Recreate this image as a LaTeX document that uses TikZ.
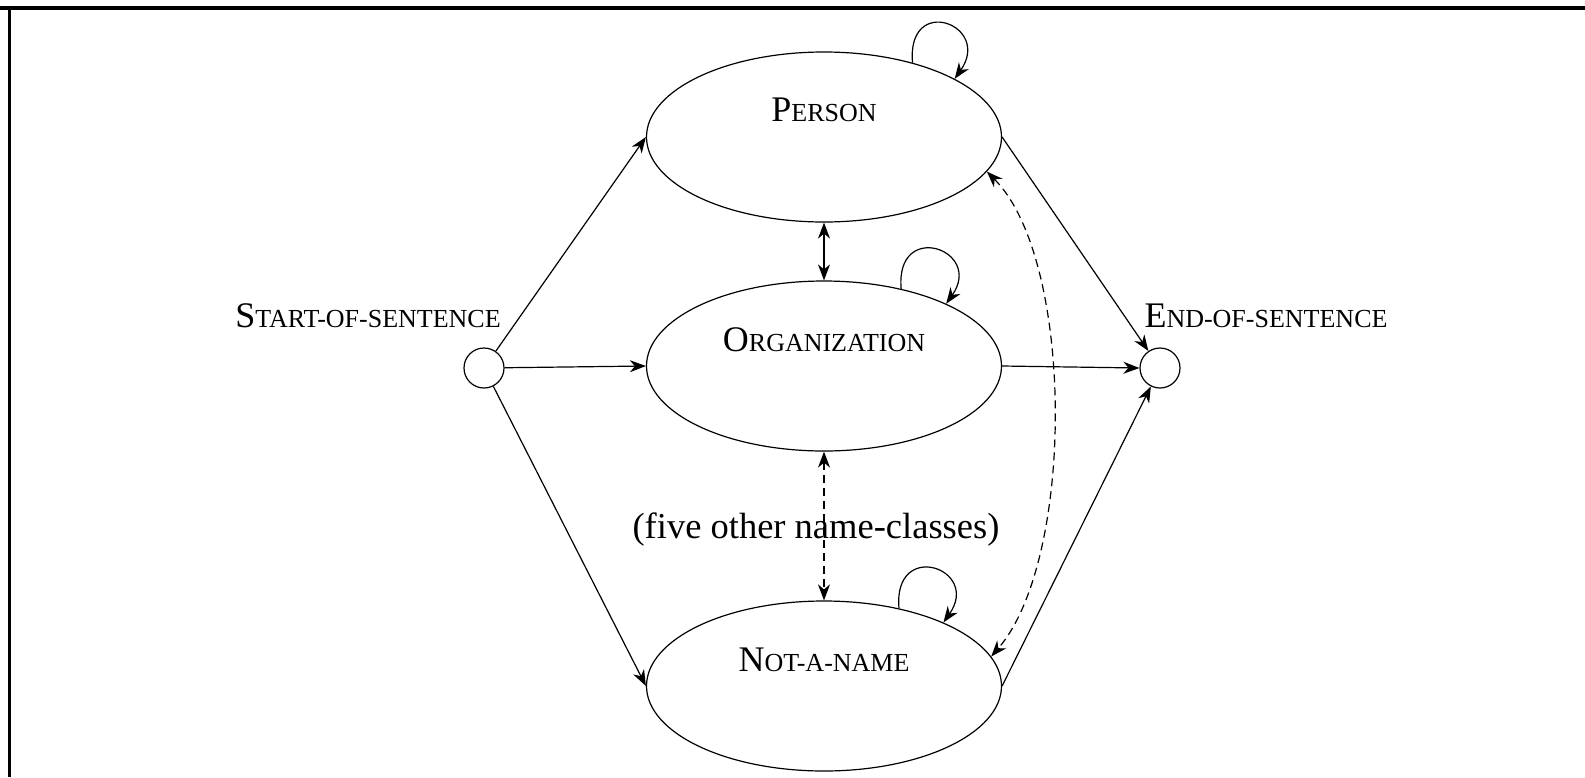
\documentclass[tikz,border=0pt]{standalone}
\usepackage{fontspec}
\setmainfont{Liberation Serif}
\usetikzlibrary{arrows.meta,shapes.geometric}
\newcommand{\fsc}[2]{{\fontsize{36}{40}\selectfont #1}{\fontsize{26}{30}\selectfont #2}}
\tikzset{
  tip/.tip={Stealth[length=16pt,width=12pt,inset=5pt]},
  state/.style={ellipse,draw,line width=1.2pt,minimum width=355pt,minimum height=170pt,inner sep=0pt},
  endpt/.style={circle,draw,line width=1.2pt,minimum size=40pt,inner sep=0pt},
  lbl/.style={inner sep=0pt,anchor=base},
  conn/.style={line width=1.2pt,-tip},
  dconn/.style={line width=1.2pt,tip-tip},
  dashconn/.style={dconn,dash pattern=on 8pt off 5pt},
  loopconn/.style={conn},
}
\begin{document}
\begin{tikzpicture}[x=1pt,y=1pt]
\useasboundingbox (0,0) rectangle (1585,-777);
\draw[line width=4pt] (0,-7.5) -- (1585,-7.5);
\draw[line width=3pt] (9,-7.5) -- (9,-777);

\node[state] (person) at (824,-137) {};
\node[state] (org) at (824,-366) {};
\node[state] (notname) at (824,-686) {};
\node[endpt] (start) at (484,-368) {};
\node[endpt] (end) at (1160,-368) {};

\node[lbl] (tperson) at (824,-121) {\fsc{P}{ERSON}};
\node[lbl] (torg) at (824,-351) {\fsc{O}{RGANIZATION}};
\node[lbl] (tnot) at (824,-671) {\fsc{N}{OT-A-NAME}};
\node[lbl] (tstart) at (368,-327) {\fsc{S}{TART-OF-SENTENCE}};
\node[lbl] (tend) at (1266,-327) {\fsc{E}{ND-OF-SENTENCE}};
\node[lbl] (tfive) at (816,-538) {\fontsize{36.5}{40}\selectfont (five other name-classes)};

\draw[conn] (start) -- (person.west);
\draw[conn] (start) -- (org.west);
\draw[conn] (start) -- (notname.west);
\draw[conn] (person.east) -- (end);
\draw[conn] (org.east) -- (end.west);
\draw[conn] (notname.east) -- (end);

\draw[dconn] (person.south) -- (org.north);
\draw[dashconn] (org.south) -- (notname.north);
\draw[dashconn] (person.-12) .. controls (1075,-260) and (1075,-560) .. (notname.10);

\draw[loopconn] (person.40) .. controls +(95:70) and +(55:66) .. (person.24);
\draw[loopconn] (org.45.4) .. controls +(95:70) and +(55:66) .. (org.27.5);
\draw[loopconn] (notname.46.9) .. controls +(95:70) and +(55:66) .. (notname.28.3);
\end{tikzpicture}
\end{document}
